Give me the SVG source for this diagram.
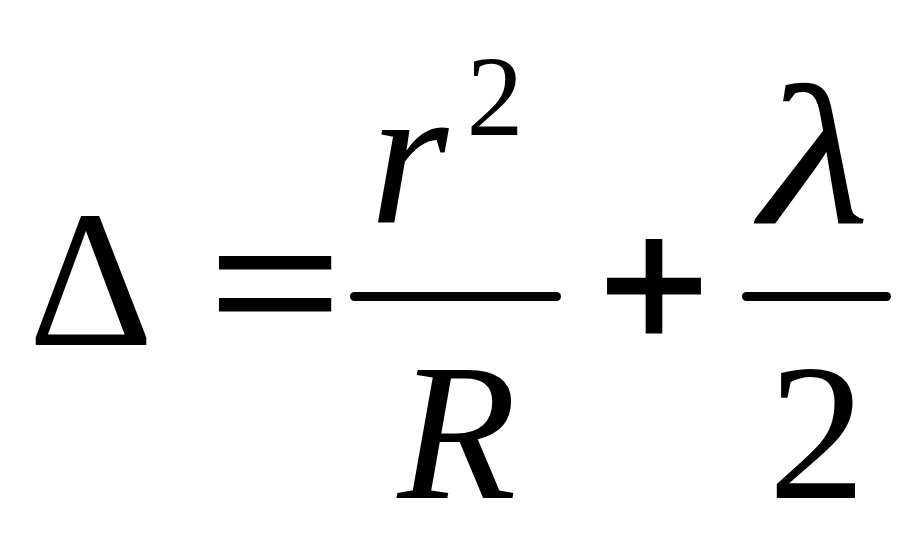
<svg xmlns="http://www.w3.org/2000/svg" width="921" height="543" viewBox="0 0 921 543">
<style>
.t{font-family:"Liberation Serif","DejaVu Serif",serif;fill:#000}
.i{font-style:italic}
.op{font-family:"DejaVu Sans","Liberation Sans",sans-serif;fill:#000;stroke:#000}
.bar{stroke:#000;stroke-width:9;stroke-linecap:round}
</style>
<rect width="921" height="543" fill="#fff"/>
<g id="delta"><text class="t" x="91" y="345" font-size="195" text-anchor="middle">Δ</text></g>
<g id="equals"><text class="t" x="275" y="354.5" font-size="209" stroke="#000" stroke-width="3" text-anchor="middle" transform="translate(275 0) scale(1.12 1) translate(-275 0)">=</text></g>
<g id="frac1">
<text class="t i" x="409" y="222" font-size="202" text-anchor="middle">r</text>
<text class="t" x="495" y="135" font-size="114" text-anchor="middle">2</text>
<line class="bar" x1="354.5" y1="296.5" x2="556.5" y2="296.5"/>
<text class="t i" x="457" y="498" font-size="195" text-anchor="middle">R</text>
</g>
<g id="plus"><text class="op" x="654" y="331" font-size="142" stroke-width="5" text-anchor="middle">+</text></g>
<g id="frac2">
<text class="t i" x="815" y="223" font-size="200" text-anchor="middle" transform="translate(815 0) scale(1.27 1) translate(-815 0)">λ</text>
<line class="bar" x1="746.5" y1="296.5" x2="886.5" y2="296.5"/>
<text class="t" x="817" y="498" font-size="195" text-anchor="middle">2</text>
</g>
</svg>
